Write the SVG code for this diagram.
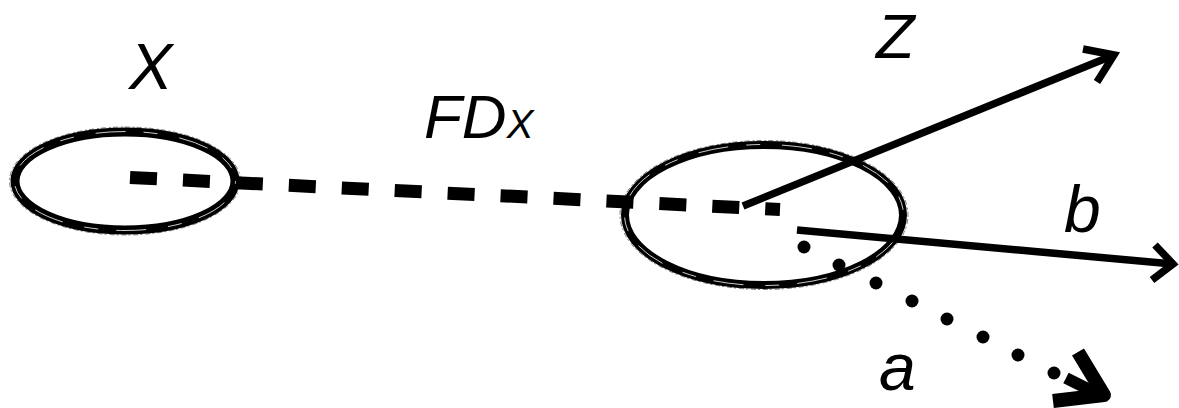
<svg xmlns="http://www.w3.org/2000/svg" width="1179" height="408" viewBox="0 0 1179 408">
  <style>
    .lbl { font-family: "Liberation Sans", Arial, sans-serif; font-style: italic; fill: #000; }
    .ell { fill: none; stroke: #000; }
    .streak { fill: none; stroke: #fff; stroke-width: 0.8; stroke-dasharray: 14 22 30 18; }
    .fuzz { fill: none; stroke: #000; stroke-width: 1; stroke-opacity: 0.5; stroke-dasharray: 2 2 5 3; }
    .ln { fill: none; stroke: #000; stroke-width: 7.5; }
  </style>
  <rect width="1179" height="408" fill="#fff"/>
  <g id="node-x">
    <ellipse class="ell" cx="125" cy="181" rx="110" ry="49" stroke-width="9"/>
    <ellipse class="streak" cx="125" cy="181" rx="110.5" ry="49.5" stroke-dashoffset="11"/>
    <ellipse class="fuzz" cx="125" cy="181" rx="115.5" ry="54"/>
    <text class="lbl" x="129" y="89" font-size="65">X</text>
  </g>
  <g id="node-center">
    <ellipse class="ell" cx="764" cy="215" rx="139" ry="70" stroke-width="8"/>
    <ellipse class="streak" cx="764" cy="215" rx="139.5" ry="70.5" stroke-dashoffset="14"/>
    <ellipse class="fuzz" cx="764" cy="215" rx="144" ry="74.5"/>
  </g>
  <g id="labels">
    <text class="lbl" x="424" y="138" font-size="62">FD<tspan font-size="40">X</tspan></text>
    <text class="lbl" x="876" y="58" font-size="63">Z</text>
    <text class="lbl" x="1064" y="232" font-size="66">b</text>
    <text class="lbl" x="879" y="390" font-size="66">a</text>
  </g>
  <g id="connectors">
    <path d="M130,177.5 L780,209.5" fill="none" stroke="#000" stroke-width="13" stroke-dasharray="27 26"/>
    <path class="ln" d="M743,206 L1114,55"/>
    <polyline class="ln" points="1083,49 1114,55 1097,82"/>
    <path class="ln" d="M797,230 L1173,264"/>
    <polyline class="ln" points="1155,245 1173,264 1152,280"/>
    <g fill="#000">
      <circle cx="804" cy="247" r="6.5"/>
      <circle cx="839" cy="265" r="6.5"/>
      <circle cx="876" cy="283" r="6.5"/>
      <circle cx="912" cy="301" r="6.5"/>
      <circle cx="947" cy="319" r="6.5"/>
      <circle cx="983" cy="337" r="6.5"/>
      <circle cx="1018" cy="355" r="6.5"/>
      <circle cx="1054" cy="373" r="6.5"/>
    </g>
    <path d="M1066,378 L1096,393" fill="none" stroke="#000" stroke-width="12"/>
    <polyline points="1078,352 1104,395 1053,401" fill="none" stroke="#000" stroke-width="14" stroke-linejoin="round"/>
  </g>
</svg>
